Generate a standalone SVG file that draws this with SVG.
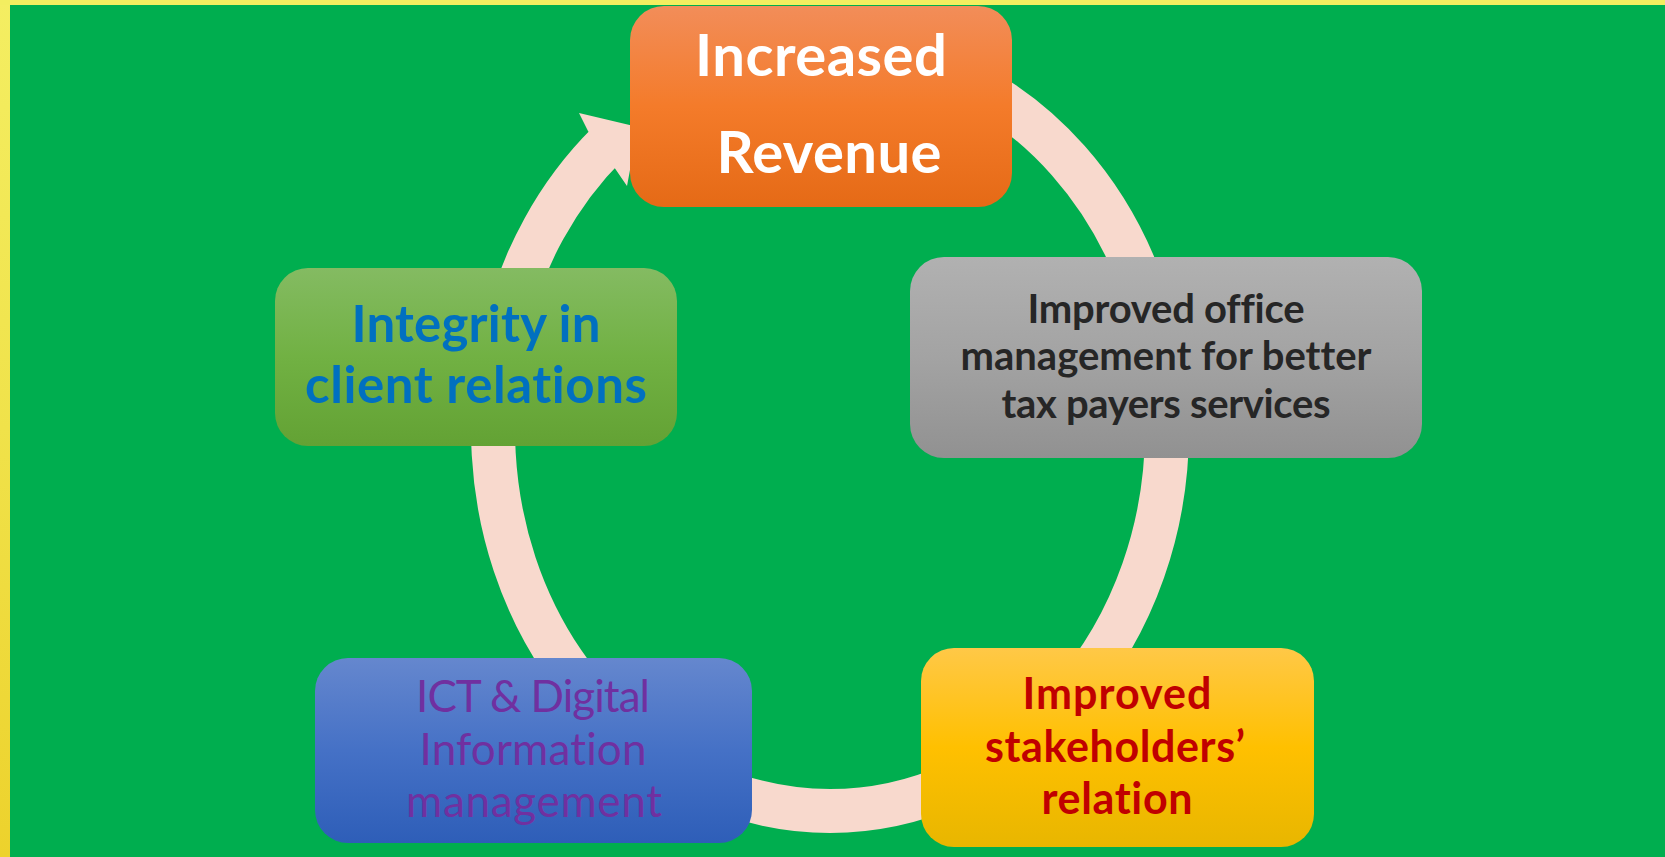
<svg xmlns="http://www.w3.org/2000/svg" width="1665" height="857" viewBox="0 0 1665 857">
  <style>
    .lbl { font-family: Lato, "Liberation Sans", sans-serif; text-anchor: middle; font-variant-ligatures: none; }
    .b { font-weight: bold; }
    .ring { fill: none; stroke: #F8D9CD; stroke-width: 44; }
    .head { fill: #F8D9CD; }
  </style>
  <defs>
    <linearGradient id="gOrange" x1="0" y1="0" x2="0" y2="1">
      <stop offset="0" stop-color="#F28D59"/>
      <stop offset="0.5" stop-color="#F47B2A"/>
      <stop offset="1" stop-color="#E56A16"/>
    </linearGradient>
    <linearGradient id="gGray" x1="0" y1="0" x2="0" y2="1">
      <stop offset="0" stop-color="#B1B1B1"/>
      <stop offset="0.5" stop-color="#A3A3A3"/>
      <stop offset="1" stop-color="#919191"/>
    </linearGradient>
    <linearGradient id="gGreen" x1="0" y1="0" x2="0" y2="1">
      <stop offset="0" stop-color="#84BB62"/>
      <stop offset="0.5" stop-color="#71B143"/>
      <stop offset="1" stop-color="#63A234"/>
    </linearGradient>
    <linearGradient id="gYellow" x1="0" y1="0" x2="0" y2="1">
      <stop offset="0" stop-color="#FFC847"/>
      <stop offset="0.5" stop-color="#FFC000"/>
      <stop offset="1" stop-color="#E8B600"/>
    </linearGradient>
    <linearGradient id="gBlue" x1="0" y1="0" x2="0" y2="1">
      <stop offset="0" stop-color="#6587CE"/>
      <stop offset="0.5" stop-color="#4571C6"/>
      <stop offset="1" stop-color="#2E5EB8"/>
    </linearGradient>
    <linearGradient id="gFrame" x1="0" y1="0" x2="0" y2="1">
      <stop offset="0" stop-color="#F4EE62"/>
      <stop offset="0.5" stop-color="#F0E24A"/>
      <stop offset="1" stop-color="#EDD22C"/>
    </linearGradient>
  </defs>

  <!-- yellow frame and green slide area -->
  <rect x="0" y="0" width="1665" height="857" fill="url(#gFrame)"/>
  <rect x="0" y="0" width="1665" height="5" fill="#F3EE60"/>
  <rect x="10" y="5" width="1655" height="852" fill="#00AE4F"/>

  <!-- cycle ring with arrowhead -->
  <g id="connectors">
    <path class="ring" d="M830,49 A337,381 0 0 1 830,811 A337,381 0 0 1 608,143.4"/>
    <polygon class="head" points="579,113 638,127 627,186 614,167 588,131"/>
  </g>

  <g id="node-revenue">
    <rect x="630" y="6" width="382" height="201" rx="34" fill="url(#gOrange)"/>
    <text class="lbl b" x="821" y="76" font-size="58" fill="#FFFFFF" textLength="252">Increased</text>
    <text class="lbl b" x="829" y="173" font-size="58" fill="#FFFFFF" textLength="225">Revenue</text>
  </g>

  <g id="node-office">
    <rect x="910" y="257" width="512" height="201" rx="34" fill="url(#gGray)"/>
    <text class="lbl b" x="1166" y="323" font-size="40" fill="#262626" textLength="277">Improved office</text>
    <text class="lbl b" x="1166" y="370" font-size="40" fill="#262626" textLength="411">management for better</text>
    <text class="lbl b" x="1166" y="418" font-size="40" fill="#262626" textLength="329">tax payers services</text>
  </g>

  <g id="node-stakeholders">
    <rect x="921" y="648" width="393" height="199" rx="33" fill="url(#gYellow)"/>
    <text class="lbl b" x="1117" y="709" font-size="43" fill="#C00000" textLength="189">Improved</text>
    <text class="lbl b" x="1115" y="762" font-size="43" fill="#C00000" textLength="260">stakeholders’</text>
    <text class="lbl b" x="1117" y="814" font-size="43" fill="#C00000" textLength="151">relation</text>
  </g>

  <g id="node-ict">
    <rect x="315" y="658" width="437" height="185" rx="33" fill="url(#gBlue)"/>
    <text class="lbl" x="533" y="712" font-size="44" fill="#7030A0" textLength="234">ICT &amp; Digital</text>
    <text class="lbl" x="533" y="765" font-size="44" fill="#7030A0" textLength="227">Information</text>
    <text class="lbl" x="534" y="817" font-size="44" fill="#7030A0" textLength="256">management</text>
  </g>

  <g id="node-integrity">
    <rect x="275" y="268" width="402" height="178" rx="33" fill="url(#gGreen)"/>
    <text class="lbl b" x="476" y="342" font-size="51" fill="#0070C0" textLength="249">Integrity in</text>
    <text class="lbl b" x="476" y="403" font-size="51" fill="#0070C0" textLength="342">client relations</text>
  </g>
</svg>
